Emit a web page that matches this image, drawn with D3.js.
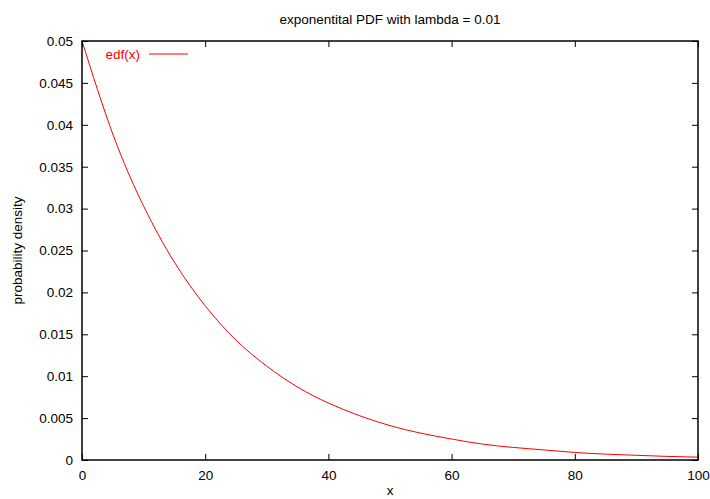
<!DOCTYPE html>
<html><head><meta charset="utf-8">
<script src="https://cdn.jsdelivr.net/npm/d3@7"></script>
<style>html,body{margin:0;padding:0;background:#fff;}svg{display:block;font-family:"Liberation Sans",Arial,sans-serif;}</style>
</head><body>
<script>
const titleText = "exponentital PDF with lambda = 0.01";
const xLabel = "x";
const yLabel = "probability density";
const seriesName = "edf(x)";
const xValues = [0,5,10,15,20,25,30,35,40,45,50,55,60,65,70,75,80,85,90,95,100];
const yValues = [0.05,0.0389,0.0303,0.0236,0.0184,0.0143,0.0112,0.0087,0.0068,0.0053,0.0041,0.0032,0.0025,0.0019,0.0015,0.0012,0.0009,0.0007,0.00056,0.00043,0.00034];
const xTicks = [0,20,40,60,80,100];
const yTicks = [0,0.005,0.01,0.015,0.02,0.025,0.03,0.035,0.04,0.045,0.05];

const W=710,H=499;
const L=82,R=698,T=41,B=460;
const FS=13.5;
const FF="Liberation Sans, Arial, sans-serif";
const svg=d3.select("body").append("svg").attr("width",W).attr("height",H);
const x=d3.scaleLinear().domain([0,100]).range([L,R]);
const y=d3.scaleLinear().domain([0,0.05]).range([B,T]);
const fmt=d=>String(+d.toFixed(3));

// curve
const data=xValues.map((v,i)=>[v,yValues[i]]);
svg.append("path").datum(data)
  .attr("d",d3.line().x(d=>x(d[0])).y(d=>y(d[1])).curve(d3.curveNatural))
  .attr("fill","none").attr("stroke","#ff0000").attr("stroke-width",1);

// axes (gnuplot style: inward ticks, mirrored)
const tl=6;
const styleText=g=>g.selectAll("text").attr("font-size",FS).attr("font-family",FF).attr("fill","#000");
svg.append("g").attr("transform",`translate(0,${B})`)
  .call(d3.axisBottom(x).tickValues(xTicks).tickSize(-tl).tickPadding(10).tickFormat(d=>d))
  .call(g=>{g.select(".domain").remove();styleText(g);});
svg.append("g").attr("transform",`translate(0,${T})`)
  .call(d3.axisTop(x).tickValues(xTicks).tickSize(-tl).tickFormat(""))
  .call(g=>g.select(".domain").remove());
svg.append("g").attr("transform",`translate(${L},0)`)
  .call(d3.axisLeft(y).tickValues(yTicks).tickSize(-tl).tickPadding(9).tickFormat(fmt))
  .call(g=>{g.select(".domain").remove();styleText(g);});
svg.append("g").attr("transform",`translate(${R},0)`)
  .call(d3.axisRight(y).tickValues(yTicks).tickSize(-tl).tickFormat(""))
  .call(g=>g.select(".domain").remove());
svg.append("rect").attr("x",L).attr("y",T).attr("width",R-L).attr("height",B-T)
  .attr("fill","none").attr("stroke","#000").attr("stroke-width",1.5);

// title & labels
svg.append("text").attr("x",(L+R)/2).attr("y",24).attr("text-anchor","middle").attr("font-size",FS).text(titleText);
svg.append("text").attr("x",(L+R)/2).attr("y",495).attr("text-anchor","middle").attr("font-size",FS).text(xLabel);
svg.append("text").attr("transform",`translate(22,${(T+B)/2}) rotate(-90)`).attr("text-anchor","middle").attr("font-size",FS).text(yLabel);

// legend
svg.append("text").attr("x",140).attr("y",59).attr("text-anchor","end").attr("font-size",FS).attr("fill","#ff0000").text(seriesName);
svg.append("line").attr("x1",149).attr("x2",188).attr("y1",54).attr("y2",54).attr("stroke","#ff0000").attr("stroke-width",1);
</script>
</body></html>
